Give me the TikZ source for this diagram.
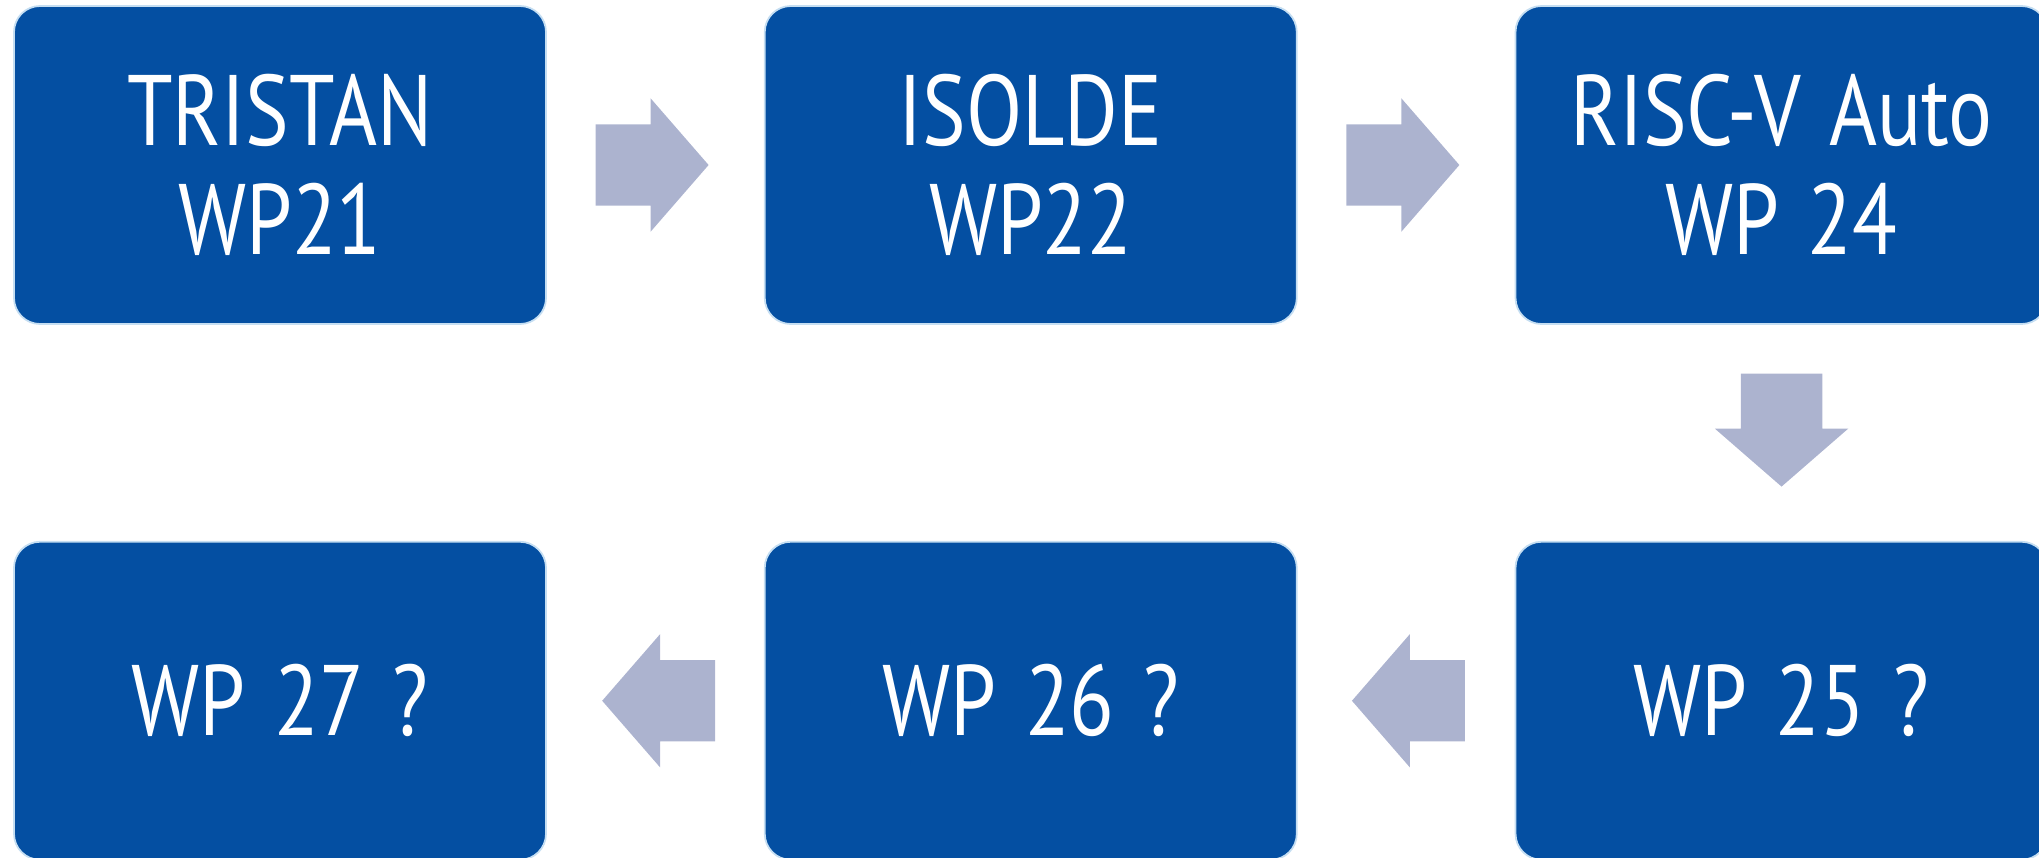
\documentclass[tikz,border=0pt]{standalone}
\usepackage{fontspec}
\setmainfont{PT Sans}[FakeStretch=0.82, WordSpace=1.3]
\usepackage{tikz}
\usetikzlibrary{positioning,shapes.arrows}
\tikzset{>=latex}
\usepackage{xcolor}
\definecolor{wpblue}{RGB}{4,79,162}
\definecolor{wpedge}{RGB}{197,222,242}
\definecolor{flowgrey}{RGB}{172,179,207}

\begin{document}
\begin{tikzpicture}
	[wp/.style={draw=wpedge, line width=0.5pt, fill=wpblue, rounded corners=0.26cm,
		minimum width=5.32cm, minimum height=3.18cm, align=center, text=white,
		font=\fontsize{28.5}{31}\selectfont},
	flow/.style={single arrow, fill=flowgrey, draw=none, inner xsep=0pt, inner ysep=0.4cm,
		minimum height=1.13cm, minimum width=1.32cm,
		single arrow head extend=0.26cm, single arrow tip angle=98, anchor=tail},
	node distance=2.17cm]
	
	\useasboundingbox (0,0) rectangle (20.39,-8.57);
	
	\node[wp] (tristan)                          at (2.80,-1.65) {TRISTAN\\WP21};
	\node[wp] (isolde)   [right=of tristan]                      {ISOLDE\\WP22};
	\node[wp] (risc_v)   [right=of isolde]                       {RISC-V Auto\\WP 24};
	
	\node[wp] (wp_25)    [below=2.16cm of risc_v]                {WP 25 ?};
	\node[wp] (wp_26)    [left=of wp_25]                         {WP 26 ?};
	\node[wp] (wp_27)    [left=of wp_26]                         {WP 27 ?};
	
	
	\node[flow] (flow_one)   [right=0.48cm of tristan, anchor=tail]                        {};
	\node[flow] (flow_two)   [right=0.48cm of isolde, anchor=tail]                         {};
	\node[flow] (flow_three) [below=0.48cm of risc_v, anchor=tail, shape border rotate=270,
		inner xsep=0.4cm, inner ysep=0pt] {};
	\node[flow] (flow_four)  [left=0.49cm of wp_25, anchor=tail, shape border rotate=180]  {};
	\node[flow] (flow_five)  [left=0.48cm of wp_26, anchor=tail, shape border rotate=180]  {};
\end{tikzpicture}
\end{document}
